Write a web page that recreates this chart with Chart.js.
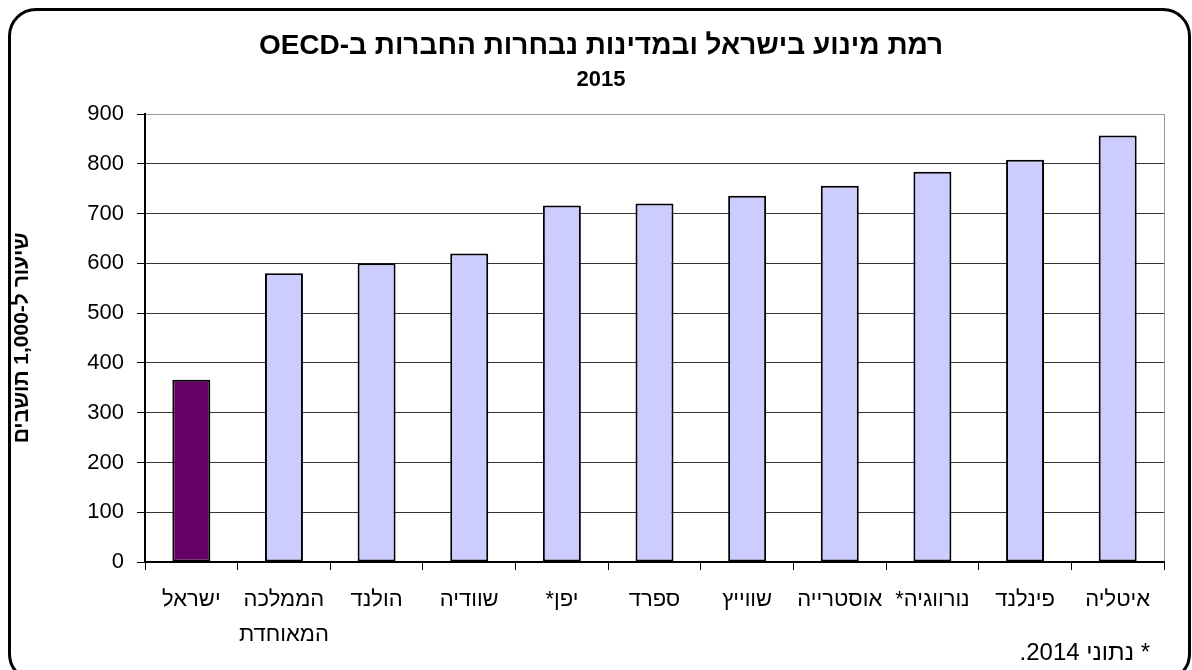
<!DOCTYPE html>
<html lang="he">
<head>
<meta charset="utf-8">
<title>רמת מינוע</title>
<script src="https://cdn.jsdelivr.net/npm/chart.js@4.4.1/dist/chart.umd.min.js"></script>
<style>
    html, body {
        margin: 0;
        padding: 0;
        background: #fff;
        overflow: hidden;
    }
    #wrap {
        position: relative;
        width: 1192px;
        height: 670px;
        overflow: hidden;
    }
    #frame {
        position: absolute;
        left: 8px;
        top: 8px;
        width: 1177px;
        height: 668px;
        border: 3px solid #000;
        border-radius: 28px;
    }
    #chart {
        position: absolute;
        left: 0;
        top: 0;
    }
    #note {
        position: absolute;
        right: 42px;
        top: 639px;
        font-family: 'Liberation Sans', Arial, sans-serif;
        font-size: 24px;
        line-height: 26px;
        color: #000;
    }
</style>
</head>
<body>
<div id="wrap">
    <div id="frame"></div>
    <canvas id="chart" dir="rtl" width="1192" height="670"></canvas>
    <div id="note" dir="rtl">* נתוני 2014.</div>
</div>
<script>
// Data
const countries = ['ישראל', ['הממלכה', 'המאוחדת'], 'הולנד', 'שוודיה', 'יפן*', 'ספרד',
    'שווייץ', 'אוסטרייה', 'נורווגיה*', 'פינלנד', 'איטליה'];
const carsPer1000 = [366, 580, 600, 620, 716, 720, 736, 756, 784, 808, 857];
const yTicks = [0, 100, 200, 300, 400, 500, 600, 700, 800, 900];

const chartTitle = 'רמת מינוע בישראל ובמדינות נבחרות החברות ב-OECD';
const chartSubtitle = '2015';
const yAxisTitle = 'שיעור ל-1,000 תושבים';

const FONT = "'Liberation Sans', Arial, sans-serif";
Chart.defaults.font.family = FONT;
Chart.defaults.color = '#000';

// Plot area edges
const padLeft = 38;      // shifts the title centre to match
const plotLeft = 145;
const plotBottom = 562;

const chart = new Chart(document.getElementById('chart'), {
    type: 'bar',
    data: {
        labels: countries,
        datasets: [{
            data: carsPer1000,
            backgroundColor: countries.map((c, i) => i === 0 ? '#660066' : '#ccccff'),
            borderColor: '#000',
            borderWidth: 2,
            borderSkipped: false,
            barPercentage: 0.41,
            categoryPercentage: 1
        }]
    },
    options: {
        responsive: false,
        animation: false,
        layout: {
            padding: { left: padLeft, right: 28, top: 0, bottom: 0 }
        },
        plugins: {
            legend: { display: false },
            tooltip: { enabled: false },
            title: {
                display: true,
                text: chartTitle,
                font: { size: 28, weight: 'bold' },
                padding: { top: 29, bottom: 0 }
            },
            subtitle: {
                display: true,
                text: chartSubtitle,
                color: '#000',
                font: { size: 22, weight: 'bold' },
                padding: { top: 4, bottom: 21 }
            }
        },
        scales: {
            x: {
                offset: true,
                afterFit: function(scale) {
                    scale.height = 670 - plotBottom;
                },
                grid: {
                    offset: true,
                    drawOnChartArea: true,
                    color: c => c.index === undefined ? '#999' : 'rgba(0,0,0,0)',
                    tickColor: '#000',
                    tickLength: 8
                },
                border: { color: '#000', width: 2 },
                ticks: {
                    font: { size: 22, lineHeight: 1.6 },
                    padding: 12,
                    maxRotation: 0,
                    autoSkip: false
                }
            },
            y: {
                min: 0,
                max: 900,
                afterFit: function(scale) {
                    scale.width = plotLeft - padLeft;
                },
                afterBuildTicks: function(scale) {
                    scale.ticks = yTicks.map(v => ({ value: v }));
                },
                grid: {
                    color: c => c.tick && c.tick.value === 900 ? '#999' : '#333',
                    tickColor: '#000',
                    tickLength: 8
                },
                border: { color: '#000', width: 2 },
                ticks: {
                    font: { size: 22 },
                    padding: 13
                },
                title: {
                    display: true,
                    text: yAxisTitle,
                    font: { size: 21, weight: 'bold' },
                    padding: { top: -28, bottom: 0 }
                }
            }
        }
    }
});
</script>
</body>
</html>
